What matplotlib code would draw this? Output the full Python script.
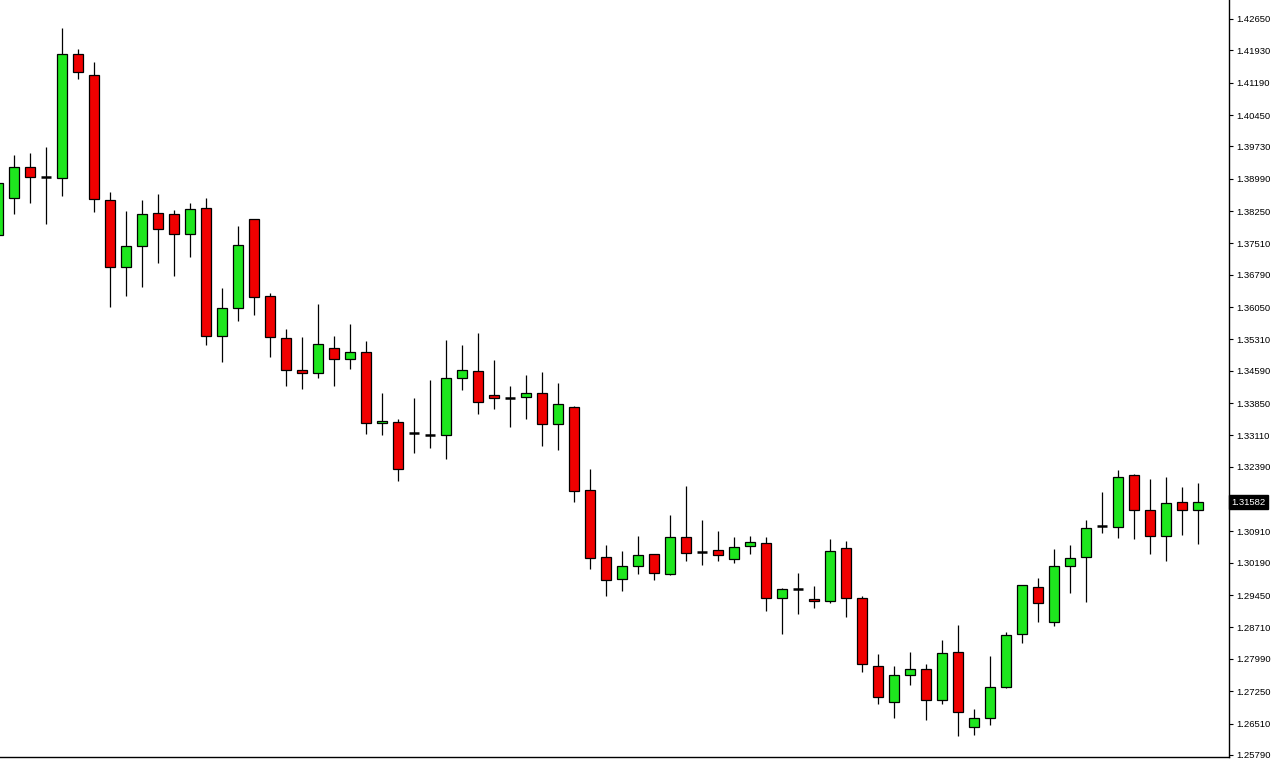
import matplotlib.pyplot as plt
from matplotlib.patches import Rectangle
import numpy as np

# OHLC (first bar is cut by the left edge)
opens = [1.37701, 1.38549, 1.39259, 1.39030, 1.39007, 1.41848, 1.41367, 1.38503, 1.36968, 1.37449,
         1.38205, 1.38182, 1.37724, 1.38320, 1.35387, 1.36029, 1.38068, 1.36304, 1.35341, 1.34608,
         1.34540, 1.35112, 1.34860, 1.35021, 1.33394, 1.33417, 1.33165, 1.33119, 1.33119, 1.34425,
         1.34585, 1.34036, 1.33967, 1.33990, 1.34081, 1.33371, 1.33761, 1.31859, 1.30324, 1.29820,
         1.30118, 1.30393, 1.29935, 1.30782, 1.30439, 1.30484, 1.30278, 1.30576, 1.30645, 1.29385,
         1.29591, 1.29362, 1.29316, 1.30530, 1.29385, 1.27827, 1.27002, 1.27621, 1.27758, 1.27048,
         1.28148, 1.26429, 1.26636, 1.27346, 1.28560, 1.29637, 1.28835, 1.30118, 1.30324, 1.31034,
         1.31011, 1.32203, 1.31401, 1.30805, 1.31584, 1.31401]
highs = [1.39076, 1.39534, 1.39580, 1.39717, 1.42444, 1.41962, 1.41665, 1.38686, 1.38251, 1.38503,
         1.38640, 1.38274, 1.38434, 1.38549, 1.36487, 1.37907, 1.38068, 1.36372, 1.35548, 1.35364,
         1.36120, 1.35387, 1.35662, 1.35273, 1.34081, 1.33486, 1.33967, 1.34379, 1.35296, 1.35181,
         1.35456, 1.34837, 1.34242, 1.34494, 1.34562, 1.34310, 1.33784, 1.32340, 1.30599, 1.30462,
         1.30805, 1.30393, 1.31286, 1.31951, 1.31172, 1.30920, 1.30782, 1.30805, 1.30782, 1.29614,
         1.29958, 1.29660, 1.30737, 1.30691, 1.29431, 1.28102, 1.27827, 1.28148, 1.27873, 1.28423,
         1.28766, 1.26842, 1.28056, 1.28606, 1.29683, 1.29843, 1.30507, 1.30599, 1.31172, 1.31813,
         1.32317, 1.32226, 1.32111, 1.32157, 1.31928, 1.32019]
lows = [1.37587, 1.38182, 1.38434, 1.37953, 1.38595, 1.41275, 1.38228, 1.36052, 1.36304, 1.36510,
        1.37060, 1.36762, 1.37197, 1.35181, 1.34792, 1.35731, 1.35868, 1.34906, 1.34242, 1.34173,
        1.34425, 1.34242, 1.34631, 1.33142, 1.33119, 1.32065, 1.32707, 1.32821, 1.32569, 1.34150,
        1.33600, 1.33715, 1.33302, 1.33486, 1.32867, 1.32776, 1.31584, 1.30049, 1.29431, 1.29545,
        1.29935, 1.29797, 1.29912, 1.30232, 1.30141, 1.30232, 1.30187, 1.30393, 1.29087, 1.28560,
        1.29018, 1.29156, 1.29270, 1.28950, 1.27689, 1.26956, 1.26636, 1.27392, 1.26590, 1.26956,
        1.26223, 1.26246, 1.26475, 1.27323, 1.28354, 1.28835, 1.28743, 1.29499, 1.29293, 1.30874,
        1.30759, 1.30737, 1.30393, 1.30232, 1.30828, 1.30622]
closes = [1.38892, 1.39259, 1.39030, 1.39030, 1.41848, 1.41435, 1.38526, 1.36968, 1.37449, 1.38182,
          1.37839, 1.37724, 1.38297, 1.35387, 1.36029, 1.37472, 1.36281, 1.35364, 1.34608, 1.34540,
          1.35204, 1.34860, 1.35021, 1.33394, 1.33440, 1.32340, 1.33165, 1.33119, 1.34425, 1.34608,
          1.33875, 1.33967, 1.33967, 1.34081, 1.33371, 1.33829, 1.31836, 1.30301, 1.29797, 1.30118,
          1.30370, 1.29958, 1.30782, 1.30416, 1.30439, 1.30370, 1.30553, 1.30668, 1.29385, 1.29591,
          1.29591, 1.29316, 1.30462, 1.29385, 1.27873, 1.27117, 1.27621, 1.27758, 1.27048, 1.28125,
          1.26773, 1.26636, 1.27346, 1.28537, 1.29683, 1.29270, 1.30118, 1.30301, 1.30989, 1.31034,
          1.32157, 1.31401, 1.30805, 1.31561, 1.31401, 1.31582]

tick_values = [1.42650, 1.41930, 1.41190, 1.40450, 1.39730, 1.38990, 1.38250, 1.37510, 1.36790,
               1.36050, 1.35310, 1.34590, 1.33850, 1.33110, 1.32390, 1.30910, 1.30190, 1.29450,
               1.28710, 1.27990, 1.27250, 1.26510, 1.25790]
last_price = 1.31582

up_color = '#1ee61e'
down_color = '#f00000'
w = 0.62

fig = plt.figure(figsize=(12.72, 7.6), dpi=100)
ax = fig.add_axes([0, 3 / 760, 1229 / 1272, 757 / 760])

xs = np.arange(len(opens)) - 1
for x, o, h, l, c in zip(xs, opens, highs, lows, closes):
    ax.vlines(x, l, h, color='black', lw=0.9, zorder=1)
    if c == o:
        ax.hlines(o, x - w / 2, x + w / 2, color='black', lw=1.8, zorder=2)
        continue
    fc = up_color if c > o else down_color
    ax.add_patch(Rectangle((x - w / 2, min(o, c)), w, abs(c - o),
                           facecolor=fc, edgecolor='black', lw=0.9, zorder=2))

ax.set_xlim(-0.875, 75.94)
ax.set_ylim(1.25743, 1.43085)

for s in ['top', 'left']:
    ax.spines[s].set_visible(False)
for s in ['right', 'bottom']:
    ax.spines[s].set_color('black')
    ax.spines[s].set_linewidth(1)

ax.set_xticks([])
ax.yaxis.tick_right()
ax.set_yticks(tick_values)
ax.set_yticklabels(['%.5f' % v for v in tick_values], fontsize=6.8, family='Liberation Sans')
ax.tick_params(axis='y', direction='out', length=3, width=0.8, pad=2)

ax.annotate('%.5f' % last_price, xy=(1.0, last_price), xycoords=('axes fraction', 'data'),
            xytext=(2, 0), textcoords='offset points', va='center', ha='left',
            fontsize=6.8, family='Liberation Sans', color='white',
            bbox=dict(boxstyle='square,pad=0.25', fc='black', ec='black'))

fig.savefig('out.png', dpi=100)
